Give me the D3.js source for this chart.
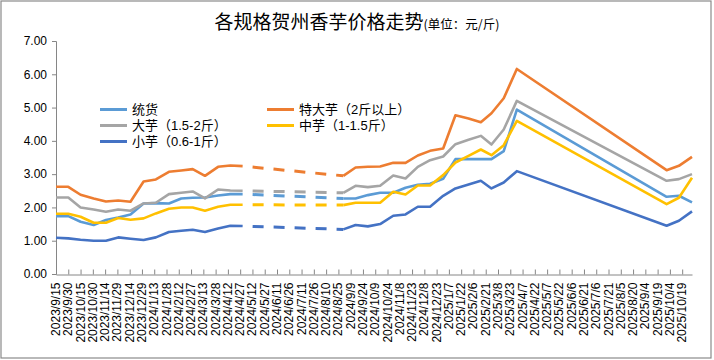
<!DOCTYPE html>
<html><head><meta charset="utf-8">
<script src="https://cdn.jsdelivr.net/npm/d3@7"></script>
<style>body{margin:0;background:#fff}svg{display:block}</style>
</head><body>
<svg id="c" width="714" height="360"></svg>
<script>
const tickLabels = ["2023/9/15","2023/9/30","2023/10/15","2023/10/30","2023/11/14","2023/11/29","2023/12/14","2023/12/29",
"2024/1/13","2024/1/28","2024/2/12","2024/2/27","2024/3/13","2024/3/28","2024/4/12","2024/4/27","2024/5/12","2024/5/27",
"2024/6/11","2024/6/26","2024/7/11","2024/7/26","2024/8/10","2024/8/25","2024/9/9","2024/9/24","2024/10/9","2024/10/24",
"2024/11/8","2024/11/23","2024/12/8","2024/12/23","2025/1/7","2025/1/22","2025/2/6","2025/2/21","2025/3/8","2025/3/23",
"2025/4/7","2025/4/22","2025/5/7","2025/5/22","2025/6/6","2025/6/21","2025/7/6","2025/7/21","2025/8/5","2025/8/20",
"2025/9/4","2025/9/19","2025/10/4","2025/10/19"];
const yTicks = [0,1,2,3,4,5,6,7];
const dates = ["2023/9/15","2023/9/30","2023/10/15","2023/10/31","2023/11/15","2023/11/30","2023/12/15","2023/12/31",
"2024/1/15","2024/1/31","2024/2/15","2024/2/29","2024/3/15","2024/3/31","2024/4/15","2024/4/30",
"2024/8/31","2024/9/15","2024/9/30","2024/10/15","2024/10/31","2024/11/15","2024/11/30","2024/12/15","2024/12/31",
"2025/1/15","2025/1/31","2025/2/15","2025/2/28","2025/3/15","2025/3/31","2025/9/30","2025/10/15","2025/10/31"];
// the stretch between these two dates is drawn dashed (no quotes)
const dashedGap = ["2024/4/30","2024/8/31"];
const tonghuo  = [1.74,1.74,1.57,1.47,1.62,1.70,1.79,2.12,2.13,2.12,2.27,2.29,2.30,2.36,2.40,2.40,
                  2.27,2.27,2.37,2.44,2.44,2.59,2.68,2.71,2.86,3.45,3.45,3.45,3.45,3.69,4.94,2.32,2.35,2.15];
const tedayu   = [2.62,2.62,2.38,2.27,2.18,2.21,2.17,2.78,2.84,3.07,3.11,3.15,2.95,3.22,3.26,3.24,
                  2.95,3.20,3.22,3.23,3.34,3.34,3.56,3.70,3.77,4.77,4.67,4.56,4.83,5.28,6.16,3.12,3.25,3.52];
const dayu     = [2.30,2.30,2.00,1.94,1.87,1.94,1.90,2.12,2.14,2.40,2.44,2.48,2.27,2.54,2.51,2.50,
                  2.44,2.65,2.61,2.65,2.96,2.87,3.22,3.42,3.53,3.90,4.03,4.15,3.89,4.34,5.20,2.80,2.85,3.00];
const zhongyu  = [1.81,1.81,1.72,1.54,1.54,1.68,1.63,1.67,1.82,1.96,2.00,2.00,1.90,2.02,2.08,2.08,
                  2.07,2.14,2.14,2.14,2.47,2.39,2.66,2.66,2.97,3.35,3.55,3.74,3.57,3.87,4.60,2.10,2.29,2.89];
const xiaoyu   = [1.09,1.07,1.03,1.00,1.00,1.10,1.06,1.02,1.10,1.26,1.30,1.33,1.26,1.37,1.45,1.44,
                  1.34,1.47,1.43,1.50,1.75,1.79,2.02,2.02,2.35,2.57,2.69,2.80,2.57,2.75,3.09,1.45,1.60,1.88];
const seriesNames = ["统货","特大芋（2斤以上）","大芋（1.5-2斤）","中芋（1-1.5斤）","小芋（0.6-1斤）"];
const seriesValues = [tonghuo, tedayu, dayu, zhongyu, xiaoyu];
const colors = ["#5B9BD5","#ED7D31","#A5A5A5","#FFC000","#4472C4"];

const parse = d3.timeParse("%Y/%m/%d");
const svg = d3.select("#c");
const font = "'Noto Sans CJK SC','Noto Sans',sans-serif";
const legFont = "'Liberation Sans','Noto Sans CJK SC',sans-serif";
const numFont = "'Liberation Sans',Arial,sans-serif";

svg.append("rect").attr("x",1).attr("y",1).attr("width",710).attr("height",357)
  .attr("fill","#fff").attr("stroke","#8a8a8a").attr("stroke-width",1.2);

const x = d3.scaleTime().domain([parse("2023/9/15"), parse("2025/10/31")]).range([56, 692]);
const y = d3.scaleLinear().domain([0,7]).range([274,41]);

// title
const t = svg.append("text").attr("x",357).attr("y",29).attr("text-anchor","middle")
  .attr("font-family",font).attr("fill","#000");
t.append("tspan").attr("font-size",19).text("各规格贺州香芋价格走势");
t.append("tspan").attr("font-size",12.5).text("(单位：元/斤)");

// y axis
const yAxis = d3.axisLeft(y).tickValues(yTicks).tickFormat(d3.format(".2f")).tickSize(4).tickPadding(5);
const gy = svg.append("g").attr("transform","translate(56,0)").call(yAxis);
gy.select(".domain").attr("stroke","#868686");
gy.selectAll(".tick line").attr("stroke","#868686");
gy.selectAll(".tick text").attr("font-family",numFont).attr("font-size",12).attr("fill","#000");

// x axis
const tickDates = tickLabels.map(parse);
const xAxis = d3.axisBottom(x).tickValues(tickDates).tickFormat((d,i)=>tickLabels[i]).tickSize(-5).tickSizeOuter(0);
const gx = svg.append("g").attr("transform","translate(0,274.5)").call(xAxis);
gx.select(".domain").attr("stroke","#868686");
gx.selectAll(".tick line").attr("stroke","#868686");
gx.selectAll(".tick text").attr("font-family",numFont).attr("font-size",12).attr("fill","#000")
  .attr("text-anchor","end").attr("dy",null).attr("y",0)
  .attr("transform","translate(3.5,8) rotate(-90)");

// lines
const pts = dates.map(parse);
const g0 = parse(dashedGap[0]), g1 = parse(dashedGap[1]);
const line = d3.line().x(d=>x(d[0])).y(d=>y(d[1]));
seriesValues.forEach((vals,si)=>{
  const data = pts.map((d,i)=>[d,vals[i]]);
  const a = data.filter(d=>d[0] <= g0);
  const b = data.filter(d=>d[0] >= g1);
  const gap = data.filter(d=>+d[0]===+g0 || +d[0]===+g1);
  [a,b].forEach(seg=>{
    svg.append("path").datum(seg).attr("d",line).attr("fill","none")
      .attr("stroke",colors[si]).attr("stroke-width",2.6).attr("stroke-linejoin","round");
  });
  svg.append("path").datum(gap).attr("d",line).attr("fill","none")
    .attr("stroke",colors[si]).attr("stroke-width",3).attr("stroke-dasharray","11,10")
    .attr("stroke-dashoffset",11);
});

// legend
const legPos = [[100,109.5],[267,109.5],[100,125.5],[267,125.5],[100,141.5]];
seriesNames.forEach((n,i)=>{
  const [lx,ly] = legPos[i];
  svg.append("line").attr("x1",lx).attr("x2",lx+27).attr("y1",ly).attr("y2",ly)
    .attr("stroke",colors[i]).attr("stroke-width",3);
  svg.append("text").attr("x",lx+32).attr("y",ly+4.6).attr("font-family",legFont)
    .attr("font-size",13).attr("fill","#000").text(n);
});
</script>
</body></html>
